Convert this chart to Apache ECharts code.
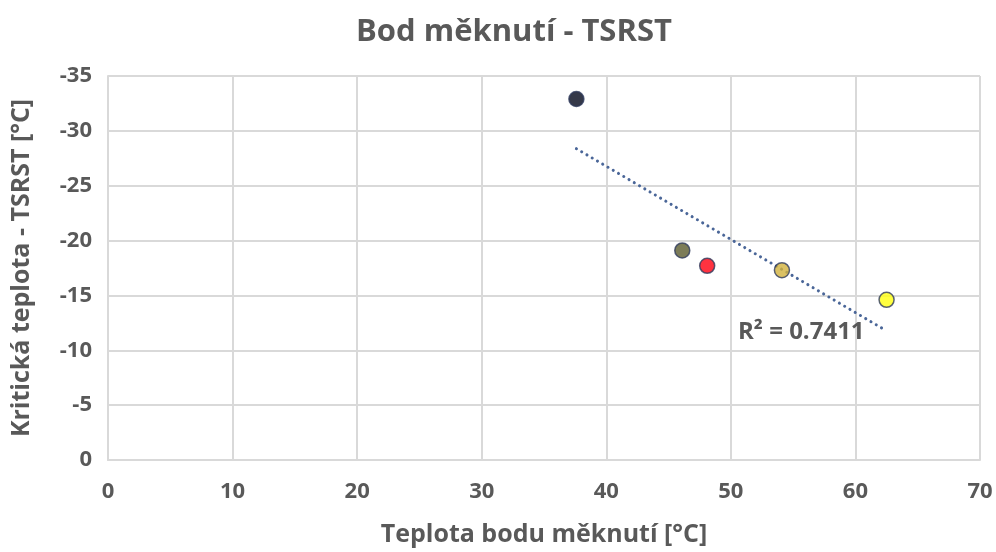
<!DOCTYPE html>
<html>
<head>
<meta charset="utf-8">
<script src="https://cdn.jsdelivr.net/npm/echarts@6/dist/echarts.min.js"></script>
<style>html,body{margin:0;padding:0;background:#fff}#c{width:996px;height:552px}</style>
</head>
<body>
<div id="c"></div>
<script>
// Data
const softeningPoint = [37.6, 46.1, 48.1, 54.1, 62.5];
const criticalTemp = [-32.9, -19.1, -17.7, -17.3, -14.6];
const pointColors = ['#03071c', '#5b5b2e', '#ff0010', '#d2b23c', '#ffff10'];
const xTicks = [0, 10, 20, 30, 40, 50, 60, 70];
const yTicks = [0, -5, -10, -15, -20, -25, -30, -35];
const r2Text = 'R² = 0.7411';

// linear trend (least squares) from the data
const n = softeningPoint.length;
const mx = softeningPoint.reduce((a, b) => a + b, 0) / n;
const my = criticalTemp.reduce((a, b) => a + b, 0) / n;
let sxy = 0, sxx = 0;
for (let i = 0; i < n; i++) {
  sxy += (softeningPoint[i] - mx) * (criticalTemp[i] - my);
  sxx += (softeningPoint[i] - mx) ** 2;
}
const slope = sxy / sxx, icpt = my - slope * mx;
const xMin = Math.min(...softeningPoint), xMax = Math.max(...softeningPoint);
const trend = [[xMin, icpt + slope * xMin], [xMax, icpt + slope * xMax]];

const font = '"Open Sans", "DejaVu Sans", sans-serif';
const txt = '#595959';
const chart = echarts.init(document.getElementById('c'), null, {renderer: 'canvas'});
chart.setOption({
  animation: false,
  backgroundColor: '#fff',
  title: {
    text: 'Bod měknutí - TSRST',
    left: 351, top: 12,
    textStyle: {fontFamily: font, fontSize: 31, fontWeight: 'bold', color: txt}
  },
  grid: {left: 108, right: 16, top: 76, bottom: 90, containLabel: false},
  xAxis: {
    type: 'value', min: xTicks[0], max: xTicks[xTicks.length - 1], interval: 10,
    name: 'Teplota bodu měknutí [°C]', nameLocation: 'middle', nameGap: 62,
    nameTextStyle: {fontFamily: font, fontSize: 25, fontWeight: 'bold', color: txt},
    axisLine: {show: true, lineStyle: {color: '#d9d9d9', width: 2}},
    axisTick: {show: false},
    axisLabel: {fontFamily: font, fontSize: 22, fontWeight: 'bold', color: txt, margin: 21},
    splitLine: {show: true, lineStyle: {color: '#d9d9d9', width: 2}}
  },
  yAxis: {
    type: 'value', min: yTicks[yTicks.length - 1], max: yTicks[0], interval: 5, inverse: true,
    name: 'Kritická teplota - TSRST [°C]', nameLocation: 'middle', nameGap: 74, nameRotate: 90,
    nameTextStyle: {fontFamily: font, fontSize: 25, fontWeight: 'bold', color: txt},
    axisLine: {show: true, lineStyle: {color: '#d9d9d9', width: 2}},
    axisTick: {show: false},
    axisLabel: {fontFamily: font, fontSize: 22, fontWeight: 'bold', color: txt, margin: 16},
    splitLine: {show: true, lineStyle: {color: '#d9d9d9', width: 2}}
  },
  series: [
    {
      type: 'line', data: trend, showSymbol: false, symbol: 'none', z: 3,
      lineStyle: {color: '#4a6698', width: 3, type: [0.1, 6], cap: 'round'}
    },
    {
      type: 'scatter', symbolSize: 15, z: 4,
      data: softeningPoint.map((x, i) => ({
        value: [x, criticalTemp[i]],
        itemStyle: {color: pointColors[i], borderColor: '#2f3b5c', borderWidth: 1.5}
      }))
    }
  ],
  graphic: [{
    type: 'text', left: 738, top: 320, z: 10,
    style: {text: r2Text, fontFamily: font, fontSize: 24, fontWeight: 'bold', fill: txt}
  }]
});
</script>
</body>
</html>
